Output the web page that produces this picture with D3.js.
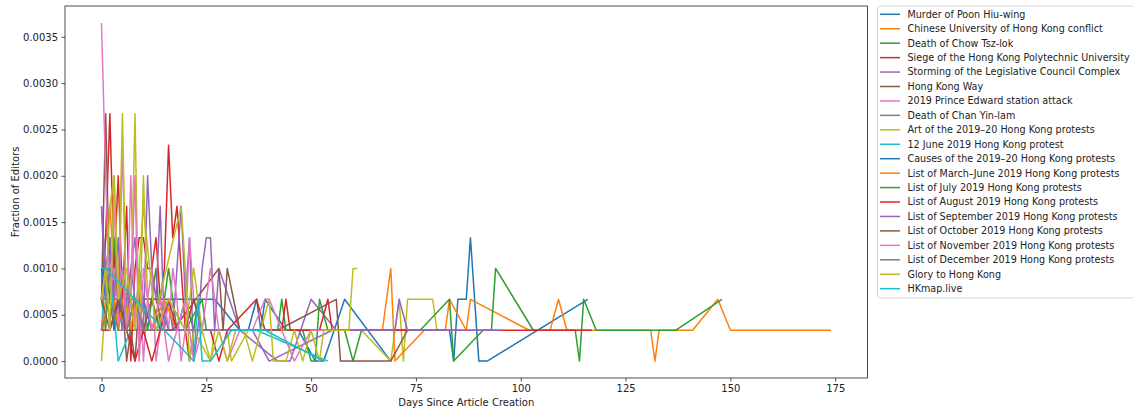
<!DOCTYPE html>
<html>
<head>
<meta charset="utf-8">
<title>Fraction of Editors</title>
<script src="https://cdn.jsdelivr.net/npm/d3@7"></script>
<style>
  body { margin: 0; background: #fff; }
  text { font-family: "DejaVu Sans", sans-serif; }
</style>
</head>
<body>
<script>
// article names, in plotting order
var seriesNames = [
  "Murder of Poon Hiu-wing",
  "Chinese University of Hong Kong conflict",
  "Death of Chow Tsz-lok",
  "Siege of the Hong Kong Polytechnic University",
  "Storming of the Legislative Council Complex",
  "Hong Kong Way",
  "2019 Prince Edward station attack",
  "Death of Chan Yin-lam",
  "Art of the 2019\u201320 Hong Kong protests",
  "12 June 2019 Hong Kong protest",
  "Causes of the 2019\u201320 Hong Kong protests",
  "List of March\u2013June 2019 Hong Kong protests",
  "List of July 2019 Hong Kong protests",
  "List of August 2019 Hong Kong protests",
  "List of September 2019 Hong Kong protests",
  "List of October 2019 Hong Kong protests",
  "List of November 2019 Hong Kong protests",
  "List of December 2019 Hong Kong protests",
  "Glory to Hong Kong",
  "HKmap.live"
];

// days since creation for each series
var seriesDays = [
  [0,2,4,6,8,10,12,14,16,18,20,22,24,27,33,35,37,38,39,44,47,51,53,58,69],
  [0,1,2,3,4,5,6,7,8,9,10,11,12],
  [0,1,2,3,4,5,6,7,8,9,10,11,12,13,14,16,18,20,22,23],
  [0,1,2,3,4,5,6,7,8,9,10,11,12,13,14,15,16,17,18,19,20,21,22],
  [0,1,2,3,4,5,6,7,8,9,10,11,12,13,14,15,16,17,18,19,20,21,22,23,24,25,26,27,28,33,42,45,50,56],
  [0,1,2,3,4,5,6,7,8,9,10,11,12,13,15,17],
  [0,1,2,3,4,5,6,7,8,9,10,11,12,13,14,15,16,17,18,19,20,21,22,24],
  [0,1,2,3,4,5,6,7,8,9,10,12,14],
  [0,1,2,3,4,5,6,7,8,9,10,11,12,19,20,21,22,26,27,30,31,35,40,45,50,55,62,69,71,72,73,79,80,82],
  [0,1,2,4,7,12,18,22,26,31,37,54],
  [0,1,2,3,4,5,6,8,10,13,16,20,25,30,35,40,45,50,55,60,65,70,75,80,83,84,85,87,88,90,92,116],
  [0,1,2,3,4,5,6,7,8,10,12,15,18,21,25,30,40,50,60,67,69,70,77,82,83,87,88,102,107,109,111,131,132,133,141,147,150,174],
  [0,1,2,3,4,6,8,10,12,14,17,20,24,25,27,30,35,40,42,43,44,48,50,51,52,54,58,60,62,76,83,84,91,93,94,103,113,114,115,118,137,148],
  [0,2,4,6,8,10,12,14,16,18,20,22,24,26,28,30,37,39,43,44,45,52,54,55,117],
  [0,1,2,3,4,5,6,7,8,9,10,12,14,16,18,20,22,24,26,28,30,33,36,40,55,70,71,73,95],
  [0,2,4,6,8,10,12,14,16,17,28,29,30,33,42,56,57,69,73],
  [0,1,2,3,4,5,6,7,8,9,10,12,14,16,18,20,22,24,26,28,30,33,36,39,40,43,46,50,54],
  [0,2,4,6,8,10,12,15],
  [0,1,2,3,4,6,8,10,13,16,20,22,24,26,28,30,32,34,36,38,40,41,44,46,48,50,52,53,55,59,60,61],
  [0,1,22,23,24,26,31,39,53]
];

// fraction of editors for each series
var seriesValues = [
  [1e-3,1e-3,6.67e-4,6.67e-4,6.67e-4,6.67e-4,6.67e-4,6.67e-4,6.67e-4,6.67e-4,6.67e-4,6.67e-4,6.67e-4,6.67e-4,3.33e-4,3.33e-4,6.67e-4,3.33e-4,6.67e-4,3.33e-4,3.33e-4,0,0,6.67e-4,0],
  [6.67e-4,1.33e-3,1.67e-3,1e-3,6.67e-4,1e-3,3.33e-4,6.67e-4,3.33e-4,3.33e-4,6.67e-4,3.33e-4,3.33e-4],
  [6.67e-4,3.33e-4,1.33e-3,6.67e-4,3.33e-4,1e-3,6.67e-4,6.67e-4,3.33e-4,1e-3,6.67e-4,3.33e-4,6.67e-4,1e-3,3.33e-4,1e-3,3.33e-4,6.67e-4,3.33e-4,6.67e-4],
  [6.67e-4,1.33e-3,2.67e-3,1e-3,2e-3,6.67e-4,1.67e-3,0,1e-3,1.33e-3,1.33e-3,1e-3,1e-3,1.33e-3,6.67e-4,1e-3,2.33e-3,1.33e-3,1.67e-3,1e-3,3.33e-4,0,3.33e-4],
  [1.67e-3,1e-3,1.33e-3,3.33e-4,6.67e-4,1e-3,3.33e-4,1e-3,1.33e-3,6.67e-4,3.33e-4,2e-3,1e-3,6.67e-4,1.67e-3,3.33e-4,6.67e-4,3.33e-4,1e-3,1.67e-3,6.67e-4,1.33e-3,0,3.33e-4,1e-3,1.33e-3,1.33e-3,3.33e-4,1e-3,3.33e-4,0,0,6.67e-4,3.33e-4],
  [6.67e-4,2.67e-3,6.67e-4,6.67e-4,3.33e-4,6.67e-4,0,3.33e-4,0,6.67e-4,6.67e-4,6.67e-4,6.67e-4,6.67e-4,3.33e-4,3.33e-4],
  [3.65e-3,2e-3,6.67e-4,1e-3,3.33e-4,2.33e-3,3.33e-4,2e-3,3.33e-4,1e-3,0,6.67e-4,1e-3,0,3.33e-4,6.67e-4,3.33e-4,1e-3,6.67e-4,0,3.33e-4,1.33e-3,6.67e-4,3.33e-4],
  [6.67e-4,6.67e-4,6.67e-4,6.67e-4,6.67e-4,6.67e-4,6.67e-4,6.67e-4,6.67e-4,6.67e-4,6.67e-4,3.33e-4,3.33e-4],
  [0,6.67e-4,1.67e-3,2e-3,6.67e-4,2.67e-3,3.33e-4,6.67e-4,2.67e-3,0,2e-3,6.67e-4,3.33e-4,1.67e-3,1e-3,0,3.33e-4,0,3.33e-4,3.33e-4,0,3.33e-4,3.33e-4,3.33e-4,3.33e-4,3.33e-4,3.33e-4,0,6.67e-4,0,6.67e-4,6.67e-4,3.33e-4,3.33e-4],
  [3.33e-4,1e-3,1e-3,0,3.33e-4,3.33e-4,3.33e-4,3.33e-4,3.33e-4,3.33e-4,3.33e-4,0],
  [1e-3,6.67e-4,6.67e-4,3.33e-4,6.67e-4,3.33e-4,3.33e-4,6.67e-4,3.33e-4,3.33e-4,6.67e-4,3.33e-4,3.33e-4,3.33e-4,3.33e-4,3.33e-4,3.33e-4,3.33e-4,3.33e-4,3.33e-4,3.33e-4,3.33e-4,3.33e-4,3.33e-4,3.33e-4,0,6.67e-4,6.67e-4,1.33e-3,0,0,6.67e-4],
  [3.33e-4,6.67e-4,1e-3,6.67e-4,3.33e-4,6.67e-4,6.67e-4,3.33e-4,6.67e-4,3.33e-4,3.33e-4,6.67e-4,3.33e-4,3.33e-4,3.33e-4,3.33e-4,3.33e-4,3.33e-4,3.33e-4,3.33e-4,1e-3,0,3.33e-4,3.33e-4,6.67e-4,3.33e-4,6.67e-4,3.33e-4,3.33e-4,6.67e-4,3.33e-4,3.33e-4,0,3.33e-4,3.33e-4,6.67e-4,3.33e-4,3.33e-4],
  [6.67e-4,1e-3,6.67e-4,1.33e-3,6.67e-4,3.33e-4,6.67e-4,3.33e-4,6.67e-4,3.33e-4,3.33e-4,3.33e-4,6.67e-4,3.33e-4,3.33e-4,3.33e-4,3.33e-4,3.33e-4,3.33e-4,6.67e-4,3.33e-4,3.33e-4,0,0,6.67e-4,3.33e-4,3.33e-4,0,3.33e-4,3.33e-4,6.67e-4,0,3.33e-4,3.33e-4,1e-3,3.33e-4,3.33e-4,0,6.67e-4,3.33e-4,3.33e-4,6.67e-4],
  [3.33e-4,3.33e-4,6.67e-4,3.33e-4,0,3.33e-4,0,3.33e-4,6.67e-4,3.33e-4,3.33e-4,6.67e-4,3.33e-4,3.33e-4,0,3.33e-4,6.67e-4,3.33e-4,3.33e-4,6.67e-4,3.33e-4,3.33e-4,6.67e-4,3.33e-4,3.33e-4],
  [1.67e-3,6.67e-4,1e-3,6.67e-4,1.33e-3,3.33e-4,6.67e-4,1e-3,6.67e-4,3.33e-4,6.67e-4,3.33e-4,6.67e-4,3.33e-4,3.33e-4,3.33e-4,3.33e-4,3.33e-4,3.33e-4,3.33e-4,3.33e-4,3.33e-4,3.33e-4,0,3.33e-4,3.33e-4,6.67e-4,3.33e-4,3.33e-4],
  [6.67e-4,3.33e-4,6.67e-4,3.33e-4,3.33e-4,3.33e-4,6.67e-4,3.33e-4,3.33e-4,3.33e-4,1e-3,3.33e-4,1e-3,3.33e-4,3.33e-4,6.67e-4,0,0,3.33e-4],
  [6.67e-4,1e-3,3.33e-4,1.67e-3,6.67e-4,1e-3,3.33e-4,6.67e-4,2e-3,0,1e-3,3.33e-4,6.67e-4,0,3.33e-4,6.67e-4,0,3.33e-4,1e-3,3.33e-4,0,3.33e-4,3.33e-4,6.67e-4,6.67e-4,3.33e-4,0,3.33e-4,3.33e-4],
  [3.33e-4,6.67e-4,3.33e-4,3.33e-4,6.67e-4,3.33e-4,3.33e-4,3.33e-4],
  [6.67e-4,1e-3,3.33e-4,2e-3,6.67e-4,1e-3,3.33e-4,1.67e-3,3.33e-4,6.67e-4,3.33e-4,1e-3,3.33e-4,0,3.33e-4,0,3.33e-4,3.33e-4,0,3.33e-4,6.67e-4,0,0,3.33e-4,0,3.33e-4,0,3.33e-4,3.33e-4,3.33e-4,1e-3,1e-3],
  [1e-3,1e-3,0,6.67e-4,0,0,3.33e-4,3.33e-4,0]
];

var xTicks = [0, 25, 50, 75, 100, 125, 150, 175];
var yTicks = [0, 0.0005, 0.001, 0.0015, 0.002, 0.0025, 0.003, 0.0035];

var colors = ["#1f77b4","#ff7f0e","#2ca02c","#d62728","#9467bd","#8c564b","#e377c2","#7f7f7f","#bcbd22","#17becf"];

var W = 1133, H = 413;
// plot box (do not name these "top" etc: window.top is read-only)
var plotL = 65, plotR = 867.5, plotT = 6, plotB = 378;

var svg = d3.select("body").append("svg")
    .attr("width", W)
    .attr("height", H);

// 5% margins like matplotlib
var xMax = d3.max(seriesDays, function (d) { return d3.max(d); });
var yMax = d3.max(seriesValues, function (d) { return d3.max(d); });
var x = d3.scaleLinear().domain([-0.05 * xMax, 1.05 * xMax]).range([plotL, plotR]);
var y = d3.scaleLinear().domain([-0.05 * yMax, 1.05 * yMax]).range([plotB, plotT]);

svg.append("clipPath").attr("id", "plotclip")
  .append("rect")
    .attr("x", plotL).attr("y", plotT)
    .attr("width", plotR - plotL).attr("height", plotB - plotT);

var line = d3.line()
    .x(function (d) { return x(d[0]); })
    .y(function (d) { return y(d[1]); });

var plot = svg.append("g").attr("clip-path", "url(#plotclip)");

seriesNames.forEach(function (name, i) {
  var pts = seriesDays[i].map(function (d, j) { return [d, seriesValues[i][j]]; });
  plot.append("path")
      .datum(pts)
      .attr("d", line)
      .attr("fill", "none")
      .attr("stroke", colors[i % 10])
      .attr("stroke-width", 1.5)
      .attr("stroke-linejoin", "round");
});

// axes
var xAxis = svg.append("g")
    .attr("transform", "translate(0," + plotB + ")")
    .call(d3.axisBottom(x).tickValues(xTicks).tickSize(3.5).tickPadding(3.5).tickSizeOuter(0));
var yAxis = svg.append("g")
    .attr("transform", "translate(" + plotL + ",0)")
    .call(d3.axisLeft(y).tickValues(yTicks).tickFormat(d3.format(".4f")).tickSize(3.5).tickPadding(3.5).tickSizeOuter(0));

[xAxis, yAxis].forEach(function (g) {
  g.select(".domain").remove();
  g.selectAll("text").attr("font-family", "DejaVu Sans").attr("font-size", 10).attr("fill", "#222");
  g.selectAll("line").attr("stroke", "#222").attr("stroke-width", 0.8);
});

// frame
svg.append("rect")
    .attr("x", plotL).attr("y", plotT)
    .attr("width", plotR - plotL).attr("height", plotB - plotT)
    .attr("fill", "none")
    .attr("stroke", "#222")
    .attr("stroke-width", 0.8);

// axis titles
svg.append("text")
    .attr("x", (plotL + plotR) / 2)
    .attr("y", 406)
    .attr("text-anchor", "middle")
    .attr("font-size", 10)
    .attr("fill", "#222")
    .text("Days Since Article Creation");

svg.append("text")
    .attr("transform", "translate(15," + (plotT + plotB) / 2 + ") rotate(-90)")
    .attr("text-anchor", "middle")
    .attr("dy", "0.35em")
    .attr("font-size", 10)
    .attr("fill", "#222")
    .text("Fraction of Editors");

// legend
var lg = svg.append("g");
lg.append("rect")
    .attr("x", 877.5).attr("y", 6)
    .attr("width", 280).attr("height", 292)
    .attr("rx", 2)
    .attr("fill", "white")
    .attr("fill-opacity", 0.8)
    .attr("stroke", "#ccc")
    .attr("stroke-width", 0.8);

seriesNames.forEach(function (name, i) {
  var yy = 14.3 + i * 14.44;
  lg.append("line")
      .attr("x1", 880).attr("x2", 900)
      .attr("y1", yy).attr("y2", yy)
      .attr("stroke", colors[i % 10])
      .attr("stroke-width", 1.5);
  lg.append("text")
      .attr("x", 907.5).attr("y", yy)
      .attr("dy", "0.35em")
      .attr("font-size", 9.6)
      .attr("fill", "#222")
      .text(name);
});
</script>
</body>
</html>
